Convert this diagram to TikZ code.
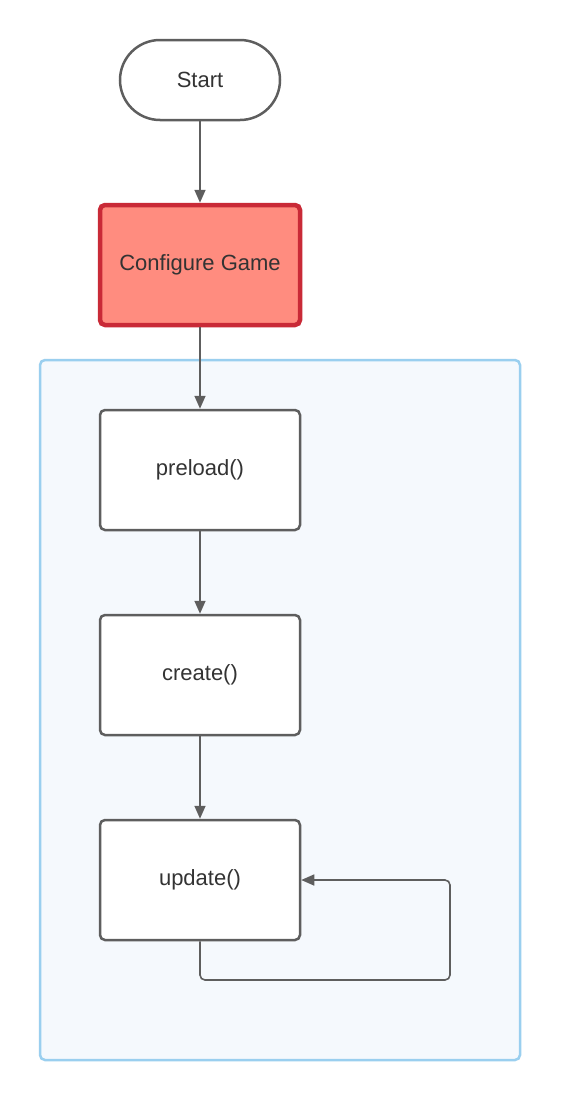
\documentclass[tikz,border=0pt]{standalone}
\usepackage{fontspec}
\setmainfont{Liberation Sans}
\usetikzlibrary{arrows.meta}
\definecolor{edge}{HTML}{5E5E5E}
\definecolor{txt}{HTML}{333333}
\definecolor{redb}{HTML}{C92A37}
\definecolor{redf}{HTML}{FF8C7F}
\definecolor{contb}{HTML}{9ACFEF}
\definecolor{contf}{HTML}{F5F9FD}
\tikzset{
  box/.style={draw=edge, line width=2.5pt, fill=white, rounded corners=5pt,
    minimum width=200pt, minimum height=120pt, inner sep=0pt, text=txt,
    font=\fontsize{22}{26}\selectfont},
  term/.style={box, rounded corners=40pt, minimum width=160pt, minimum height=80pt},
  hot/.style={box, draw=redb, fill=redf, line width=4.5pt},
  conn/.style={draw=edge, line width=1.6pt, -{Triangle[length=13pt,width=11pt]}, rounded corners=5pt}
}
\begin{document}
\begin{tikzpicture}[x=1pt,y=-1pt]
\fill[white] (0,0) rectangle (560,1100);
\useasboundingbox (0,0) rectangle (560,1100);
\node[draw=contb, fill=contf, line width=2.5pt, rounded corners=5pt, minimum width=480pt, minimum height=700pt, inner sep=0pt] (cont) at (280,710) {};
\node[term] (start) at (200,80) {Start};
\node[hot] (cfg) at (200,265) {Configure Game};
\node[box] (pre) at (200,470) {preload()};
\node[box] (cre) at (200,675) {create()};
\node[box] (upd) at (200,880) {update()};
\coordinate (l1) at (200,980);
\coordinate (l2) at (450,980);
\coordinate (l3) at (450,880);
\draw[conn] (start) -- (cfg);
\draw[conn] (cfg) -- (pre);
\draw[conn] (pre) -- (cre);
\draw[conn] (cre) -- (upd);
\draw[conn] (upd.south) -- (l1) -- (l2) -- (l3) -- (upd.east);
\end{tikzpicture}
\end{document}
